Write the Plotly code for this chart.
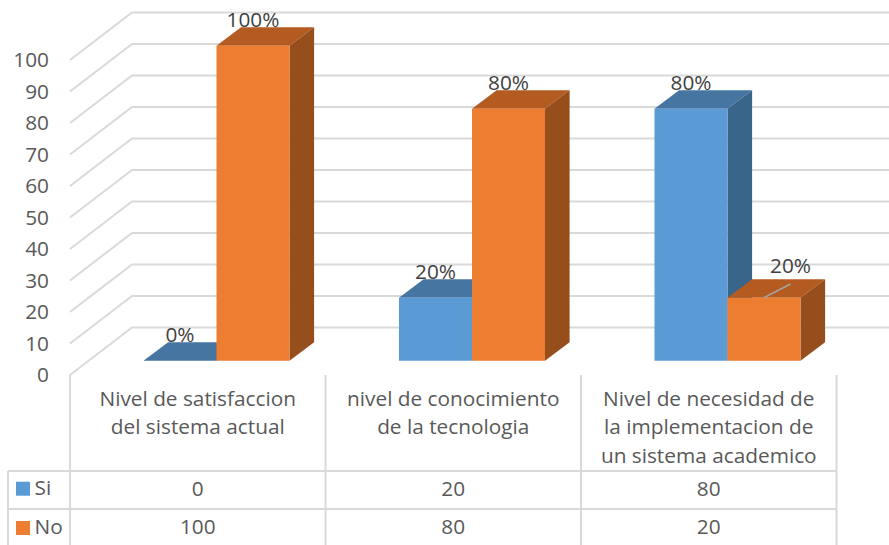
import plotly.graph_objects as go

# ---- data ----
category_lines = [
    ["Nivel de satisfaccion", "del sistema actual"],
    ["nivel de conocimiento", "de la tecnologia"],
    ["Nivel de necesidad de", "la implementacion de", "un sistema academico"],
]
series_names = ["Si", "No"]
si_values = [0, 20, 80]
no_values = [100, 80, 20]
si_labels = ["0%", "20%", "80%"]
no_labels = ["100%", "80%", "20%"]
tick_values = [0, 10, 20, 30, 40, 50, 60, 70, 80, 90, 100]

# ---- colours ----
SI = dict(front="#5B9BD5", top="#4775A2", side="#3A658B")
NO = dict(front="#ED7D31", top="#B35B20", side="#964E1D")
GRID = "#D9D9D9"
TICK = "#595959"
LABEL = "#404040"
FONT = "Open Sans"
TXT = 20.8
NUM = 20.8

# ---- layout geometry: canvas pixels to axis units ----
W, H = 889, 545
X0, CAT = 70.0, 255.5      # pixel of left edge of category 0, pixels per category
Y0, UNIT = 375.0, 3.15     # pixel of value 0, pixels per value unit


def ux(px):
    return (px - X0) / CAT


def uy(py):
    return (Y0 - py) / UNIT


WALL_DX, WALL_DY = 62 / CAT, 47.5 / UNIT
BAR_BASE = (Y0 - 360.7) / UNIT
BAR_W = 73.0 / CAT
BAR_SPLIT = ux(216.5)      # Si/No boundary inside a category
DEPTH_X, DEPTH_Y = 24.6 / CAT, 18.5 / UNIT
LABEL_UP = 24 / UNIT

fig = go.Figure()


def line(xs, ys, color=GRID, width=2):
    fig.add_trace(go.Scatter(x=xs, y=ys, mode="lines", showlegend=False, hoverinfo="skip",
                             line=dict(color=color, width=width)))


def text(xs, ys, labels, size, color, pos="middle center"):
    fig.add_trace(go.Scatter(x=xs, y=ys, mode="text", text=labels, textposition=pos,
                             showlegend=False, hoverinfo="skip", cliponaxis=False,
                             textfont=dict(family=FONT, size=size, color=color)))


# walls
xr = ux(W + 5)
for t in tick_values:
    line([0, WALL_DX, xr], [t, t + WALL_DY, t + WALL_DY])

# table grid
for i in range(4):
    line([i, i], [0 if i == 0 else uy(375), uy(H + 5)])
line([ux(8), ux(8)], [uy(471), uy(H + 5)])
for py in (471, 509):
    line([ux(8), 3], [uy(py), uy(py)])


# bars
def bar_series(name, values, colors, left_offset, z):
    for i, v in enumerate(values):
        xl = i + left_offset
        xh = xl + BAR_W
        yt = BAR_BASE + v
        yb = BAR_BASE
        fig.add_trace(go.Scatter(
            x=[xl, xh, xh + DEPTH_X, xl + DEPTH_X, xl],
            y=[yt, yt, yt + DEPTH_Y, yt + DEPTH_Y, yt],
            fill="toself", fillcolor=colors["top"], mode="lines", line=dict(width=0),
            showlegend=False, hoverinfo="skip", zorder=z))
        fig.add_trace(go.Scatter(
            x=[xh, xh + DEPTH_X, xh + DEPTH_X, xh, xh],
            y=[yb, yb + DEPTH_Y, yt + DEPTH_Y, yt, yb],
            fill="toself", fillcolor=colors["side"], mode="lines", line=dict(width=0),
            showlegend=False, hoverinfo="skip", zorder=z))
    fig.add_trace(go.Bar(
        x=[i + left_offset + BAR_W / 2 for i in range(len(values))],
        y=values, base=[BAR_BASE] * len(values), width=BAR_W, name=name,
        marker=dict(color=colors["front"], line=dict(width=0)),
        showlegend=False, zorder=z + 1))


bar_series(series_names[0], si_values, SI, BAR_SPLIT - BAR_W, 1)
bar_series(series_names[1], no_values, NO, BAR_SPLIT, 3)


# data labels above the bars
def label_series(values, labels, left_offset):
    for i, (v, lab) in enumerate(zip(values, labels)):
        xc = i + left_offset + BAR_W / 2
        yc = BAR_BASE + v + LABEL_UP
        fig.add_trace(go.Scatter(x=[xc], y=[yc], mode="text", text=[lab], textposition="middle center",
                                 showlegend=False, hoverinfo="skip", cliponaxis=False, zorder=6,
                                 textfont=dict(family=FONT, size=NUM, color=LABEL)))


label_series(si_values, si_labels, BAR_SPLIT - BAR_W)
label_series(no_values[:2], no_labels[:2], BAR_SPLIT)

# the moved last label with its leader line
last_x = 2 + BAR_SPLIT + BAR_W / 2
last_top = BAR_BASE + no_values[2]
fig.add_trace(go.Scatter(x=[last_x, last_x + 26.5 / CAT], y=[last_top, last_top + 13.7 / UNIT],
                         mode="lines", line=dict(color="#A6A6A6", width=1.5),
                         showlegend=False, hoverinfo="skip", zorder=6))
fig.add_trace(go.Scatter(x=[last_x + 26.5 / CAT], y=[last_top + 29.5 / UNIT], mode="text", text=[no_labels[2]],
                         textposition="middle center", showlegend=False, hoverinfo="skip", zorder=6,
                         textfont=dict(family=FONT, size=NUM, color=LABEL)))

# category labels in the table header
for i, lines in enumerate(category_lines):
    for j, s in enumerate(lines):
        text([i + 0.5], [uy(400.5 + j * 28.7)], [s], TXT, TICK)

# table values
text([i + 0.5 for i in range(3)], [uy(491)] * 3, [str(v) for v in si_values], NUM, TICK)
text([i + 0.5 for i in range(3)], [uy(528.7)] * 3, [str(v) for v in no_values], NUM, TICK)

# legend keys in the table
for name, colors, py in ((series_names[0], SI, 488.7), (series_names[1], NO, 528)):
    fig.add_trace(go.Scatter(x=[ux(23)], y=[uy(py)], mode="markers", showlegend=False, hoverinfo="skip",
                             marker=dict(symbol="square", size=14, color=colors["front"], line=dict(width=0))))
    text([ux(34.5)], [uy(py + 1)], [name], TXT, TICK, "middle right")

fig.update_layout(
    width=W, height=H, margin=dict(l=0, r=0, t=0, b=0), autosize=False,
    paper_bgcolor="white", plot_bgcolor="white", barmode="overlay", showlegend=False,
    xaxis=dict(range=[ux(0), ux(W)], visible=False, fixedrange=True),
    yaxis=dict(range=[uy(H), uy(0)], anchor="free", position=X0 / W, side="left",
               tickmode="array", tickvals=tick_values, ticktext=[str(t) for t in tick_values],
               showgrid=False, zeroline=False, showline=False, ticks="", fixedrange=True,
               ticklabelstandoff=21, tickfont=dict(family=FONT, size=NUM, color=TICK)),
)

fig.write_html("out.html", post_script="document.body.style.margin='0';document.body.style.overflow='hidden';",
               config=dict(displayModeBar=False))
